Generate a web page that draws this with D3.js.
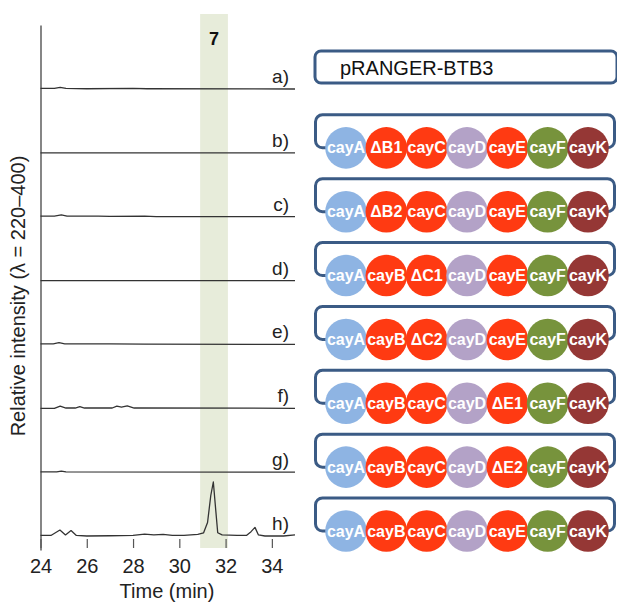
<!DOCTYPE html>
<html>
<head>
<meta charset="utf-8">
<script src="https://cdn.jsdelivr.net/npm/d3@7"></script>
<style>
  body { margin: 0; background: #fff; }
  text { font-family: "Liberation Sans", Arial, sans-serif; }
</style>
</head>
<body>
<svg id="chart" width="617" height="604"></svg>
<script>
// trace labels, top to bottom
const rowLabels = ["a", "b", "c", "d", "e", "f", "g", "h"];

// chromatogram traces: [time (min), relative intensity]
const traceA = [[24, 0.01], [24.6, 0.01], [24.85, 0.03], [25.1, 0.01], [26, 0.005], [28, 0.01], [28.6, 0.005], [35, 0]];
const traceB = [[24, 0], [35, 0]];
const traceC = [[24, 0.01], [24.6, 0.01], [24.9, 0.035], [25.15, 0.01], [26.5, 0.01], [27, 0.005], [28.5, 0.01], [29, 0], [35, 0]];
const traceD = [[24, 0], [35, 0]];
const traceE = [[24, 0.01], [24.55, 0.01], [24.8, 0.035], [25.05, 0.01], [27, 0.01], [28.5, 0.005], [35, 0]];
const traceF = [[24, 0], [24.6, 0], [24.85, 0.04], [25.1, 0.005], [25.5, 0.005], [25.7, 0.03], [25.9, 0.005],
                [27.1, 0.005], [27.3, 0.04], [27.5, 0.02], [27.75, 0.045], [28.05, 0.005], [35, 0]];
const traceG = [[24, 0.005], [24.7, 0.005], [24.9, 0.02], [25.1, 0.005], [35, 0]];
const traceH = [[24, 0.01], [24.45, 0.01], [24.84, 0.11], [25.08, 0.02], [25.32, 0.1], [25.55, 0.01], [26, 0],
                [27, 0.005], [28, 0.01], [28.5, 0.035], [28.9, 0.02], [29.3, 0.03], [29.7, 0.01], [30.2, 0.01],
                [30.8, 0.03], [31.05, 0.06], [31.22, 0.25], [31.36, 0.75], [31.47, 1.0], [31.57, 0.5], [31.66, 0.06],
                [31.85, 0.02], [32.5, 0.01], [32.9, 0.01], [33.1, 0.08], [33.27, 0.16], [33.42, 0.02], [33.7, 0],
                [34.5, 0], [35, 0.02]];
const traces = [traceA, traceB, traceC, traceD, traceE, traceF, traceG, traceH];

const xTicks = [24, 26, 28, 30, 32, 34];
const bandTimes = [30.9, 32.1];
const bandLabel = "7";

// gene constructs for rows b-h (row a is the empty vector)
const vectorName = "pRANGER-BTB3";
const constructs = [
  ["cayA", "ΔB1", "cayC", "cayD", "cayE", "cayF", "cayK"],
  ["cayA", "ΔB2", "cayC", "cayD", "cayE", "cayF", "cayK"],
  ["cayA", "cayB", "ΔC1", "cayD", "cayE", "cayF", "cayK"],
  ["cayA", "cayB", "ΔC2", "cayD", "cayE", "cayF", "cayK"],
  ["cayA", "cayB", "cayC", "cayD", "ΔE1", "cayF", "cayK"],
  ["cayA", "cayB", "cayC", "cayD", "ΔE2", "cayF", "cayK"],
  ["cayA", "cayB", "cayC", "cayD", "cayE", "cayF", "cayK"]
];
const geneKeys = ["A", "B", "C", "D", "E", "F", "K"];
const geneColors = ["#8eb4e3", "#ff3a12", "#ff3a12", "#b3a2c7", "#ff3a12", "#77933c", "#953735"];

const svg = d3.select("#chart");

const x = d3.scaleLinear().domain([24, 35]).range([40.5, 295]);
const rowY = d3.scalePoint().domain(rowLabels).range([89, 536]);
const amp = 54;

// highlight band
svg.append("rect")
  .attr("x", x(bandTimes[0]))
  .attr("y", 14)
  .attr("width", x(bandTimes[1]) - x(bandTimes[0]))
  .attr("height", 534)
  .attr("fill", "#e7ecda");

svg.append("text")
  .attr("x", x((bandTimes[0] + bandTimes[1]) / 2))
  .attr("y", 45)
  .attr("text-anchor", "middle")
  .attr("font-size", 18)
  .attr("font-weight", "bold")
  .attr("fill", "#111")
  .text(bandLabel);

// y axis (no ticks)
const yAxisScale = d3.scaleLinear().domain([0, 1]).range([550, 25]);
svg.append("g")
  .attr("transform", `translate(${x(24)},0)`)
  .call(d3.axisLeft(yAxisScale).tickValues([]).tickSizeOuter(0))
  .select(".domain").attr("stroke", "#444").attr("stroke-width", 1.3);

// x axis
const xAxisG = svg.append("g")
  .attr("transform", "translate(0,539)")
  .call(d3.axisBottom(x).tickValues(xTicks).tickSize(9).tickSizeOuter(0).tickPadding(11));
xAxisG.select(".domain").remove();
xAxisG.selectAll(".tick line").attr("stroke", "#555").attr("stroke-width", 1.2);
xAxisG.selectAll(".tick text")
  .attr("font-size", 20)
  .attr("fill", "#222")
  .style("font-family", "'Liberation Sans', Arial, sans-serif");

svg.append("text")
  .attr("x", 167)
  .attr("y", 598)
  .attr("text-anchor", "middle")
  .attr("font-size", 20)
  .attr("fill", "#222")
  .text("Time (min)");

svg.append("text")
  .attr("transform", "translate(25,296) rotate(-90)")
  .attr("text-anchor", "middle")
  .attr("font-size", 20)
  .attr("fill", "#222")
  .text("Relative intensity (λ = 220–400)");

// traces
traces.forEach((trace, i) => {
  const base = rowY(rowLabels[i]);
  const line = d3.line()
    .x(d => x(d[0]))
    .y(d => base - d[1] * amp);
  svg.append("path")
    .datum(trace)
    .attr("fill", "none")
    .attr("stroke", "#333")
    .attr("stroke-width", 1.3)
    .attr("stroke-linejoin", "round")
    .attr("d", line);

  svg.append("text")
    .attr("x", 289)
    .attr("y", base - 6)
    .attr("text-anchor", "end")
    .attr("font-size", 19)
    .attr("fill", "#222")
    .text(rowLabels[i] + ")");
});

// right panel: constructs
const boxColor = "#3b5b85";
const geneX = d3.scalePoint().domain(d3.range(7)).range([346, 588]);
const color = d3.scaleOrdinal().domain(geneKeys).range(geneColors);

svg.append("rect")
  .attr("x", 315)
  .attr("y", rowY("a") - 38)
  .attr("width", 302)
  .attr("height", 32)
  .attr("rx", 6)
  .attr("fill", "none")
  .attr("stroke", boxColor)
  .attr("stroke-width", 3);

svg.append("text")
  .attr("x", 340)
  .attr("y", rowY("a") - 14)
  .attr("font-size", 20)
  .attr("fill", "#111")
  .text(vectorName);

constructs.forEach((genes, i) => {
  const cy = rowY(rowLabels[i + 1]) - 5;
  svg.append("rect")
    .attr("x", 315.5)
    .attr("y", cy - 33)
    .attr("width", 299)
    .attr("height", 33)
    .attr("rx", 7)
    .attr("fill", "none")
    .attr("stroke", boxColor)
    .attr("stroke-width", 3);

  genes.forEach((g, j) => {
    const key = g.slice(-1).match(/\d/) ? g[1] : g.slice(-1);
    const gg = svg.append("g");
    gg.append("circle")
      .attr("cx", geneX(j))
      .attr("cy", cy)
      .attr("r", 20.8)
      .attr("fill", color(key));
    gg.append("text")
      .attr("x", geneX(j))
      .attr("y", cy + 5.5)
      .attr("text-anchor", "middle")
      .attr("font-size", 16)
      .attr("font-weight", "bold")
      .attr("fill", "#fff")
      .text(g);
  });
});
</script>
</body>
</html>
